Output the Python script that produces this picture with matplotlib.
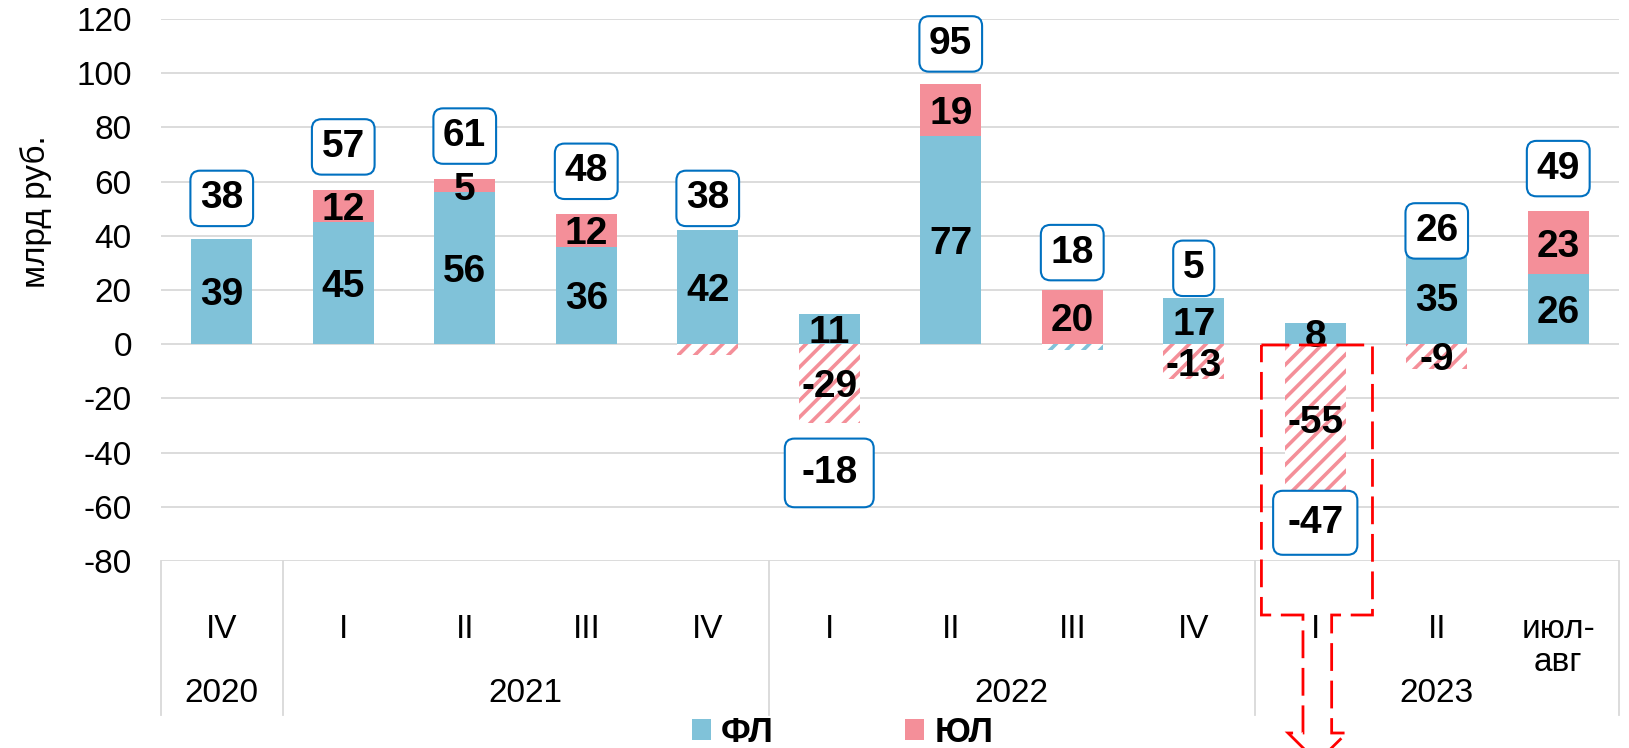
import matplotlib
matplotlib.use('Agg')
import matplotlib.pyplot as plt
from matplotlib.patches import Patch, Polygon
from matplotlib.transforms import blended_transform_factory
import numpy as np

plt.rcParams['font.family'] = ['Liberation Sans', 'DejaVu Sans']
plt.rcParams['hatch.linewidth'] = 2.6
plt.rcParams['axes.unicode_minus'] = False

# ---------------- data ----------------
quarters = ['IV', 'I', 'II', 'III', 'IV', 'I', 'II', 'III', 'IV', 'I', 'II', 'июл-\nавг']
years = ['2020', '2021', '2022', '2023']
year_spans = [(0, 0), (1, 4), (5, 8), (9, 11)]
fl = [39, 45, 56, 36, 42, 11, 77, -2, 17, 8, 35, 26]        # ФЛ
ul = [0, 12, 5, 12, -4, -29, 19, 20, -13, -55, -9, 23]      # ЮЛ
totals = [38, 57, 61, 48, 38, -18, 95, 18, 5, -47, 26, 49]
series_names = ['ФЛ', 'ЮЛ']

BLUE = '#80C2D9'
PINK = '#F48F99'
GRID = '#D9D9D9'
BOXEDGE = '#0070C0'

W, H = 1629, 748
fig = plt.figure(figsize=(W / 100, H / 100), dpi=100)
ax = fig.add_axes([161 / W, 1 - 561 / H, (1619 - 161) / W, (561 - 19) / H])

ax.set_yticks(range(-80, 121, 20))
ax.yaxis.grid(True, color=GRID, lw=1.3)
ax.set_axisbelow(True)
for s in ax.spines.values():
    s.set_visible(False)
ax.tick_params(axis='y', length=0, pad=21, labelsize=24)
ax.set_xticks([])

x = np.arange(len(quarters))
pos_bottom = np.zeros(len(x))
neg_bottom = np.zeros(len(x))
for vals, color in [(fl, BLUE), (ul, PINK)]:
    v = np.array(vals, float)
    pos = np.where(v > 0, v, 0)
    neg = np.where(v < 0, v, 0)
    ax.bar(x, pos, 0.5, bottom=pos_bottom, color=color, lw=0, zorder=2)
    ax.bar(x, neg, 0.5, bottom=neg_bottom, facecolor='white', edgecolor=color,
           hatch='//', lw=0, zorder=2)
    for i in range(len(x)):
        if abs(v[i]) >= 5:
            base = pos_bottom[i] if v[i] > 0 else neg_bottom[i]
            ax.text(i, base + v[i] / 2, f'{int(v[i])}', ha='center', va='center_baseline',
                    fontsize=28, fontweight='bold', zorder=4)
    pos_bottom += pos
    neg_bottom += neg

# total labels in rounded boxes (layout offsets in value units)
box_shift = {i: 15.8 for i in range(len(x))}
box_shift.update({8: 23.0, 5: -29.5, 9: -18.9})
box_pad = {i: 0.25 for i in range(len(x))}
box_pad.update({5: 0.42, 9: 0.36})
for i, t in enumerate(totals):
    ax.text(i, t + box_shift[i], f'{t}', ha='center', va='center', fontsize=28,
            fontweight='bold', zorder=5,
            bbox=dict(boxstyle=f'round,pad={box_pad[i]},rounding_size=0.25',
                      fc='white', ec=BOXEDGE, lw=1.5))

ax.set_xlim(-0.5, 11.5)
ax.set_ylim(-80, 120)

# multi-level category axis
trans = blended_transform_factory(ax.transData, fig.transFigure)
for xs in [-0.5, 0.5, 4.5, 8.5, 11.5]:
    ax.plot([xs, xs], [1 - 561 / H, 1 - 715 / H], transform=trans, color=GRID,
            lw=1.3, clip_on=False)
for i, q in enumerate(quarters):
    if '\n' in q:
        ax.text(i, 1 - 646 / H, q, transform=trans, ha='center', va='center',
                fontsize=24, linespacing=1.05)
    else:
        ax.text(i, 1 - 630 / H, q, transform=trans, ha='center', va='center', fontsize=24)
for yr, (a, b) in zip(years, year_spans):
    ax.text((a + b) / 2, 1 - 694 / H, yr, transform=trans, ha='center', va='center',
            fontsize=24)

# y label
fig.text(36 / W, 1 - 212 / H, 'млрд руб.', rotation=90, ha='center', va='center',
         fontsize=24)

# red dashed callout around 2023 I
c = 9
def fy(py):
    return 1 - py / H
pts = [(c - 0.443, fy(345)), (c + 0.471, fy(345)), (c + 0.471, fy(615)),
       (c + 0.135, fy(615)), (c + 0.135, fy(733)), (c + 0.259, fy(733)),
       (c + 0.017, fy(762)), (c - 0.224, fy(733)), (c - 0.101, fy(733)),
       (c - 0.101, fy(615)), (c - 0.443, fy(615))]
callout = Polygon(pts, closed=True, fill=False, ec='red', lw=2,
                  ls=(0, (10, 3.5)), transform=trans, clip_on=False, zorder=6)
ax.add_patch(callout)
ax.set_xlim(-0.5, 11.5)
ax.set_ylim(-80, 120)

# legend
handles = [Patch(facecolor=BLUE), Patch(facecolor=PINK)]
fig.legend(handles, series_names, ncol=2, frameon=False, loc='center left',
           bbox_to_anchor=(692 / W, 1 - 732 / H), borderpad=0, borderaxespad=0,
           prop={'size': 25, 'weight': 'bold'}, handlelength=0.55, handleheight=0.55,
           handletextpad=0.29, columnspacing=3.78)

fig.savefig('out.png', dpi=100)
